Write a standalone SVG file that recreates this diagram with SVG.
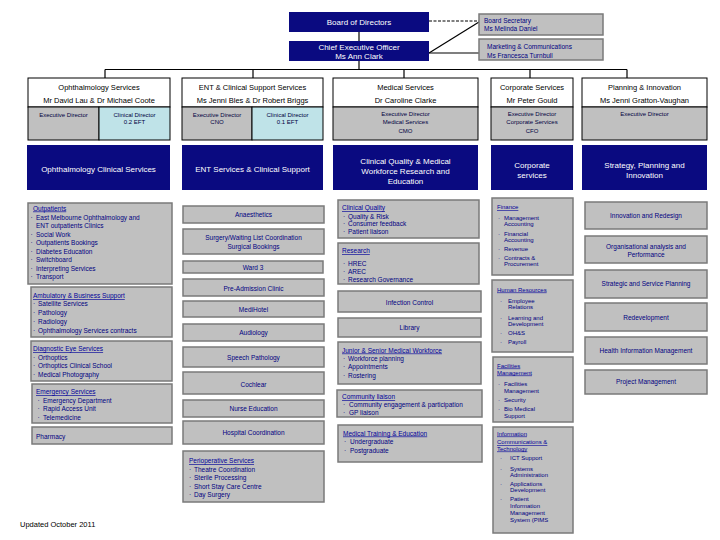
<svg xmlns="http://www.w3.org/2000/svg" width="720" height="540" viewBox="0 0 720 540">
<style>
text{font-family:"Liberation Sans",Arial,sans-serif}
.navy{fill:#0a0a80}
.gb{fill:#c0c0c0;stroke:#7a7a7a;stroke-width:1.5}
.hb{fill:#fff;stroke:#000;stroke-width:1}
.hg{fill:#c0c0c0;stroke:#000;stroke-width:1}
.hc{fill:#bfe3e8;stroke:#000;stroke-width:1}
.wt{fill:#fff;font-size:8px;text-anchor:middle}
.ht{fill:#000;font-size:7.5px;text-anchor:middle}
.st{fill:#000040;font-size:6px;text-anchor:middle}
.ct{fill:#000080;font-size:6.5px;text-anchor:middle}
.lt{fill:#000080;font-size:6.5px}
.hd{fill:#000099;font-size:6.5px;text-decoration:underline}
#finance text,#human-resources text,#facilities text,#ict text{font-size:6px}
.ln{stroke:#000;stroke-width:1.2;fill:none}
</style>

<g id="connectors">
<line class="ln" x1="429" y1="21" x2="479" y2="21" stroke-dasharray="3,1.5" stroke-width="1.8"/>
<line class="ln" x1="359" y1="32" x2="359" y2="41"/>
<line class="ln" x1="429" y1="53" x2="479" y2="22"/>
<line class="ln" x1="429" y1="53" x2="479" y2="53"/>
<line class="ln" x1="359" y1="61" x2="359" y2="69.5"/>
<line class="ln" x1="105" y1="69.5" x2="627" y2="69.5"/>
<line class="ln" x1="105" y1="69.5" x2="105" y2="78"/>
<line class="ln" x1="253" y1="69.5" x2="253" y2="78"/>
<line class="ln" x1="404" y1="69.5" x2="404" y2="78"/>
<line class="ln" x1="530" y1="69.5" x2="530" y2="78"/>
<line class="ln" x1="627" y1="69.5" x2="627" y2="78"/>
</g>

<g id="board">
<rect class="navy" x="289" y="12" width="140" height="20"/>
<text class="wt" x="359" y="25" font-size="8.5">Board of Directors</text>
</g>
<g id="ceo">
<rect class="navy" x="289" y="41" width="140" height="20"/>
<text class="wt" x="359" y="50">Chief Executive Officer</text>
<text class="wt" x="359" y="59">Ms Ann Clark</text>
</g>
<g id="board-secretary">
<rect class="gb" x="479" y="14" width="124" height="21"/>
<text class="lt" x="484" y="23">Board Secretary</text>
<text class="lt" x="484" y="31">Ms Melinda Daniel</text>
</g>
<g id="marketing">
<rect class="gb" x="479" y="39" width="124" height="21"/>
<text class="lt" x="487" y="49">Marketing &amp; Communications</text>
<text class="lt" x="487" y="57.5">Ms Francesca Turnbull</text>
</g>

<!-- Column headers -->
<g id="hdr-ophthalmology">
<rect class="hb" x="28" y="78" width="142" height="29"/>
<rect class="hg" x="28" y="107" width="71" height="33"/>
<rect class="hc" x="99" y="107" width="71" height="33"/>
<text class="ht" x="99" y="89.5">Ophthalmology Services</text>
<text class="ht" x="99" y="102.5">Mr David Lau &amp; Dr Michael Coote</text>
<text class="st" x="63.5" y="117">Executive Director</text>
<text class="st" x="134.5" y="117">Clinical Director</text>
<text class="st" x="134.5" y="124">0.2 EFT</text>
</g>
<g id="hdr-ent">
<rect class="hb" x="182" y="78" width="141" height="29"/>
<rect class="hg" x="182" y="107" width="70" height="33"/>
<rect class="hc" x="252" y="107" width="71" height="33"/>
<text class="ht" x="252.5" y="89.5">ENT &amp; Clinical Support Services</text>
<text class="ht" x="252.5" y="102.5">Ms Jenni Bles &amp; Dr Robert Briggs</text>
<text class="st" x="217" y="117">Executive Director</text>
<text class="st" x="217" y="124">CNO</text>
<text class="st" x="287.5" y="117">Clinical Director</text>
<text class="st" x="287.5" y="124">0.1 EFT</text>
</g>
<g id="hdr-medical">
<rect class="hb" x="333" y="78" width="145" height="29"/>
<rect class="hg" x="333" y="107" width="145" height="33"/>
<text class="ht" x="405.5" y="89.5">Medical Services</text>
<text class="ht" x="405.5" y="102.5">Dr Caroline Clarke</text>
<text class="st" x="405.5" y="116">Executive Director</text>
<text class="st" x="405.5" y="124">Medical Services</text>
<text class="st" x="405.5" y="133">CMO</text>
</g>
<g id="hdr-corporate">
<rect class="hb" x="491" y="78" width="82" height="29"/>
<rect class="hg" x="491" y="107" width="82" height="33"/>
<text class="ht" x="532" y="89.5">Corporate Services</text>
<text class="ht" x="532" y="102.5">Mr Peter Gould</text>
<text class="st" x="532" y="116">Executive Director</text>
<text class="st" x="532" y="124">Corporate Services</text>
<text class="st" x="532" y="133">CFO</text>
</g>
<g id="hdr-planning">
<rect class="hb" x="582" y="78" width="125" height="29"/>
<rect class="hg" x="582" y="107" width="125" height="33"/>
<text class="ht" x="644.5" y="89.5">Planning &amp; Innovation</text>
<text class="ht" x="644.5" y="102.5">Ms Jenni Gratton-Vaughan</text>
<text class="st" x="644.5" y="116">Executive Director</text>
</g>

<!-- Navy division boxes -->
<g id="div-ophthalmology">
<rect class="navy" x="27" y="145" width="143" height="45"/>
<text class="wt" x="98.5" y="172">Ophthalmology Clinical Services</text>
</g>
<g id="div-ent">
<rect class="navy" x="182" y="145" width="141" height="45"/>
<text class="wt" x="252.5" y="172">ENT Services &amp; Clinical Support</text>
</g>
<g id="div-medical">
<rect class="navy" x="333" y="145" width="145" height="45"/>
<text class="wt" x="405.5" y="164">Clinical Quality &amp; Medical</text>
<text class="wt" x="405.5" y="174">Workforce Research and</text>
<text class="wt" x="405.5" y="184">Education</text>
</g>
<g id="div-corporate">
<rect class="navy" x="491" y="145" width="82" height="45"/>
<text class="wt" x="532" y="168">Corporate</text>
<text class="wt" x="532" y="178">services</text>
</g>
<g id="div-planning">
<rect class="navy" x="582" y="145" width="125" height="45"/>
<text class="wt" x="644.5" y="168">Strategy, Planning and</text>
<text class="wt" x="644.5" y="178">Innovation</text>
</g>

<!-- Column 1 -->
<g id="outpatients">
<rect class="gb" x="28" y="203" width="144" height="81"/>
<text class="hd" x="33" y="210.5">Outpatients</text>
<text class="lt" x="30.5" y="219.5">·</text><text class="lt" x="36" y="219.5">East Melbourne Ophthalmology and</text>
<text class="lt" x="36" y="228">ENT outpatients Clinics</text>
<text class="lt" x="30.5" y="236.5">·</text><text class="lt" x="36" y="236.5">Social Work</text>
<text class="lt" x="30.5" y="245">·</text><text class="lt" x="36" y="245">Outpatients Bookings</text>
<text class="lt" x="30.5" y="253.5">·</text><text class="lt" x="36" y="253.5">Diabetes Education</text>
<text class="lt" x="30.5" y="262">·</text><text class="lt" x="36" y="262">Switchboard</text>
<text class="lt" x="30.5" y="270.5">·</text><text class="lt" x="36" y="270.5">Interpreting Services</text>
<text class="lt" x="30.5" y="279">·</text><text class="lt" x="36" y="279">Transport</text>
</g>
<g id="ambulatory">
<rect class="gb" x="31" y="287" width="141" height="50"/>
<text class="hd" x="33" y="298">Ambulatory &amp; Business Support</text>
<text class="lt" x="33" y="305.5">·</text><text class="lt" x="38" y="305.5">Satellite Services</text>
<text class="lt" x="33" y="314.5">·</text><text class="lt" x="38" y="314.5">Pathology</text>
<text class="lt" x="33" y="323.5">·</text><text class="lt" x="38" y="323.5">Radiology</text>
<text class="lt" x="33" y="332.5">·</text><text class="lt" x="38" y="332.5">Ophthalmology Services contracts</text>
</g>
<g id="diagnostic-eye">
<rect class="gb" x="31" y="341" width="141" height="40"/>
<text class="hd" x="33" y="351">Diagnostic Eye Services</text>
<text class="lt" x="33" y="359.5">·</text><text class="lt" x="38" y="359.5">Orthoptics</text>
<text class="lt" x="33" y="368">·</text><text class="lt" x="38" y="368">Orthoptics Clinical School</text>
<text class="lt" x="33" y="376.5">·</text><text class="lt" x="38" y="376.5">Medical Photography</text>
</g>
<g id="emergency">
<rect class="gb" x="32" y="384" width="140" height="39"/>
<text class="hd" x="36" y="394">Emergency Services</text>
<text class="lt" x="37.5" y="402.5">·</text><text class="lt" x="43" y="402.5">Emergency Department</text>
<text class="lt" x="37.5" y="411">·</text><text class="lt" x="43" y="411">Rapid Access Unit</text>
<text class="lt" x="37.5" y="419.5">·</text><text class="lt" x="43" y="419.5">Telemedicine</text>
</g>
<g id="pharmacy">
<rect class="gb" x="32" y="427" width="140" height="17"/>
<text class="lt" x="36" y="439">Pharmacy</text>
</g>
<text x="20" y="527" font-size="7.5" fill="#000">Updated October 2011</text>

<!-- Column 2 -->
<g id="anaesthetics"><rect class="gb" x="183" y="206" width="141" height="17"/><text class="ct" x="253.5" y="217">Anaesthetics</text></g>
<g id="surgery-waiting"><rect class="gb" x="183" y="229" width="141" height="25"/><text class="ct" x="253.5" y="240">Surgery/Waiting List Coordination</text><text class="ct" x="253.5" y="248.5">Surgical Bookings</text></g>
<g id="ward3"><rect class="gb" x="183" y="261" width="140" height="12"/><text class="ct" x="253" y="269.5">Ward 3</text></g>
<g id="pre-admission"><rect class="gb" x="183" y="279" width="141" height="17"/><text class="ct" x="253.5" y="290.5">Pre-Admission Clinic</text></g>
<g id="medihotel"><rect class="gb" x="183" y="301" width="141" height="16"/><text class="ct" x="253.5" y="312">MediHotel</text></g>
<g id="audiology"><rect class="gb" x="183" y="324" width="141" height="17"/><text class="ct" x="253.5" y="334.5">Audiology</text></g>
<g id="speech-pathology"><rect class="gb" x="183" y="347" width="141" height="20"/><text class="ct" x="253.5" y="359.5">Speech Pathology</text></g>
<g id="cochlear"><rect class="gb" x="183" y="372" width="141" height="22"/><text class="ct" x="253.5" y="387">Cochlear</text></g>
<g id="nurse-education"><rect class="gb" x="183" y="400" width="141" height="17"/><text class="ct" x="253.5" y="410.5">Nurse Education</text></g>
<g id="hospital-coordination"><rect class="gb" x="183" y="421" width="141" height="23"/><text class="ct" x="253.5" y="434.5">Hospital Coordination</text></g>
<g id="perioperative">
<rect class="gb" x="183" y="451" width="141" height="51"/>
<text class="hd" x="189" y="463">Perioperative Services</text>
<text class="lt" x="189" y="471.5">·</text><text class="lt" x="194" y="471.5">Theatre Coordination</text>
<text class="lt" x="189" y="480">·</text><text class="lt" x="194" y="480">Sterile Processing</text>
<text class="lt" x="189" y="488.5">·</text><text class="lt" x="194" y="488.5">Short Stay Care Centre</text>
<text class="lt" x="189" y="496.5">·</text><text class="lt" x="194" y="496.5">Day Surgery</text>
</g>

<!-- Column 3 -->
<g id="clinical-quality">
<rect class="gb" x="338" y="200" width="141" height="38"/>
<text class="hd" x="342" y="210">Clinical Quality</text>
<text class="lt" x="343" y="218.5">·</text><text class="lt" x="348" y="218.5">Quality &amp; Risk</text>
<text class="lt" x="343" y="226">·</text><text class="lt" x="348" y="226">Consumer feedback</text>
<text class="lt" x="343" y="234">·</text><text class="lt" x="348" y="234">Patient liaison</text>
</g>
<g id="research">
<rect class="gb" x="338" y="243" width="141" height="41"/>
<text class="hd" x="342" y="253">Research</text>
<text class="lt" x="343" y="265.5">·</text><text class="lt" x="348" y="265.5">HREC</text>
<text class="lt" x="343" y="273.5">·</text><text class="lt" x="348" y="273.5">AREC</text>
<text class="lt" x="343" y="281.5">·</text><text class="lt" x="348" y="281.5">Research Governance</text>
</g>
<g id="infection-control"><rect class="gb" x="338" y="291" width="143" height="21"/><text class="ct" x="409.5" y="304.5">Infection Control</text></g>
<g id="library"><rect class="gb" x="338" y="318" width="143" height="19"/><text class="ct" x="409.5" y="329.5">Library</text></g>
<g id="junior-senior">
<rect class="gb" x="338" y="342" width="143" height="42"/>
<text class="hd" x="342" y="352.5">Junior &amp; Senior Medical Workforce</text>
<text class="lt" x="343" y="360.5">·</text><text class="lt" x="348" y="360.5">Workforce planning</text>
<text class="lt" x="343" y="369">·</text><text class="lt" x="348" y="369">Appointments</text>
<text class="lt" x="343" y="377.5">·</text><text class="lt" x="348" y="377.5">Rostering</text>
</g>
<g id="community-liaison">
<rect class="gb" x="337" y="390" width="145" height="27"/>
<text class="hd" x="342" y="399">Community liaison</text>
<text class="lt" x="343" y="406.5">·</text><text class="lt" x="349" y="406.5">Community engagement &amp; participation</text>
<text class="lt" x="343" y="414.5">·</text><text class="lt" x="349" y="414.5">GP liaison</text>
</g>
<g id="medical-training">
<rect class="gb" x="338" y="425" width="144" height="37"/>
<text class="hd" x="343" y="435.5">Medical Training &amp; Education</text>
<text class="lt" x="344" y="444">·</text><text class="lt" x="350" y="444">Undergraduate</text>
<text class="lt" x="344" y="452.5">·</text><text class="lt" x="350" y="452.5">Postgraduate</text>
</g>

<!-- Column 4 -->
<g id="finance">
<rect class="gb" x="492" y="198" width="81" height="77"/>
<text class="hd" x="497" y="209">Finance</text>
<text class="lt" x="498" y="219.5">·</text><text class="lt" x="504" y="219.5">Management</text>
<text class="lt" x="504" y="225.5">Accounting</text>
<text class="lt" x="498" y="235.5">·</text><text class="lt" x="504" y="235.5">Financial</text>
<text class="lt" x="504" y="241.5">Accounting</text>
<text class="lt" x="498" y="250.5">·</text><text class="lt" x="504" y="250.5">Revenue</text>
<text class="lt" x="498" y="259.5">·</text><text class="lt" x="504" y="259.5">Contracts &amp;</text>
<text class="lt" x="504" y="265.5">Procurement</text>
</g>
<g id="human-resources">
<rect class="gb" x="492" y="280" width="81" height="72"/>
<text class="hd" x="497" y="291.5">Human Resources</text>
<text class="lt" x="500" y="302.5">·</text><text class="lt" x="508" y="302.5">Employee</text>
<text class="lt" x="508" y="308.5">Relations</text>
<text class="lt" x="500" y="319.5">·</text><text class="lt" x="508" y="319.5">Learning and</text>
<text class="lt" x="508" y="325.5">Development</text>
<text class="lt" x="500" y="334.5">·</text><text class="lt" x="508" y="334.5">OH&amp;S</text>
<text class="lt" x="500" y="343.5">·</text><text class="lt" x="508" y="343.5">Payroll</text>
</g>
<g id="facilities">
<rect class="gb" x="493" y="357" width="80" height="65"/>
<text class="hd" x="497" y="367.5">Facilities</text>
<text class="hd" x="497" y="374.5">Management</text>
<text class="lt" x="498" y="385.5">·</text><text class="lt" x="504" y="385.5">Facilities</text>
<text class="lt" x="504" y="392.5">Management</text>
<text class="lt" x="498" y="401.5">·</text><text class="lt" x="504" y="401.5">Security</text>
<text class="lt" x="498" y="410.5">·</text><text class="lt" x="504" y="410.5">Bio Medical</text>
<text class="lt" x="504" y="417.5">Support</text>
</g>
<g id="ict">
<rect class="gb" x="493" y="427" width="80" height="106"/>
<text class="hd" x="497" y="435.5">Information</text>
<text class="hd" x="497" y="444">Communications &amp;</text>
<text class="hd" x="497" y="450.5">Technology</text>
<text class="lt" x="500" y="459.5">·</text><text class="lt" x="510" y="459.5">ICT Support</text>
<text class="lt" x="500" y="470.5">·</text><text class="lt" x="510" y="470.5">Systems</text>
<text class="lt" x="510" y="476.5">Administration</text>
<text class="lt" x="500" y="485.5">·</text><text class="lt" x="510" y="485.5">Applications</text>
<text class="lt" x="510" y="491.5">Development</text>
<text class="lt" x="500" y="500.5">·</text><text class="lt" x="510" y="500.5">Patient</text>
<text class="lt" x="510" y="507.5">Information</text>
<text class="lt" x="510" y="514.5">Management</text>
<text class="lt" x="510" y="521.5">System (PIMS</text>
</g>

<!-- Column 5 -->
<g id="innovation-redesign"><rect class="gb" x="585" y="202" width="122" height="27"/><text class="ct" x="646" y="217.5">Innovation and Redesign</text></g>
<g id="org-analysis"><rect class="gb" x="585" y="236" width="122" height="27"/><text class="ct" x="646" y="249">Organisational analysis and</text><text class="ct" x="646" y="256.5">Performance</text></g>
<g id="strategic-planning"><rect class="gb" x="585" y="270" width="122" height="28"/><text class="ct" x="646" y="286">Strategic and Service Planning</text></g>
<g id="redevelopment"><rect class="gb" x="585" y="303" width="122" height="28"/><text class="ct" x="646" y="319.5">Redevelopment</text></g>
<g id="health-information"><rect class="gb" x="585" y="337" width="122" height="27"/><text class="ct" x="646" y="352.5">Health Information Management</text></g>
<g id="project-management"><rect class="gb" x="585" y="370" width="122" height="24"/><text class="ct" x="646" y="383.5">Project Management</text></g>
</svg>
